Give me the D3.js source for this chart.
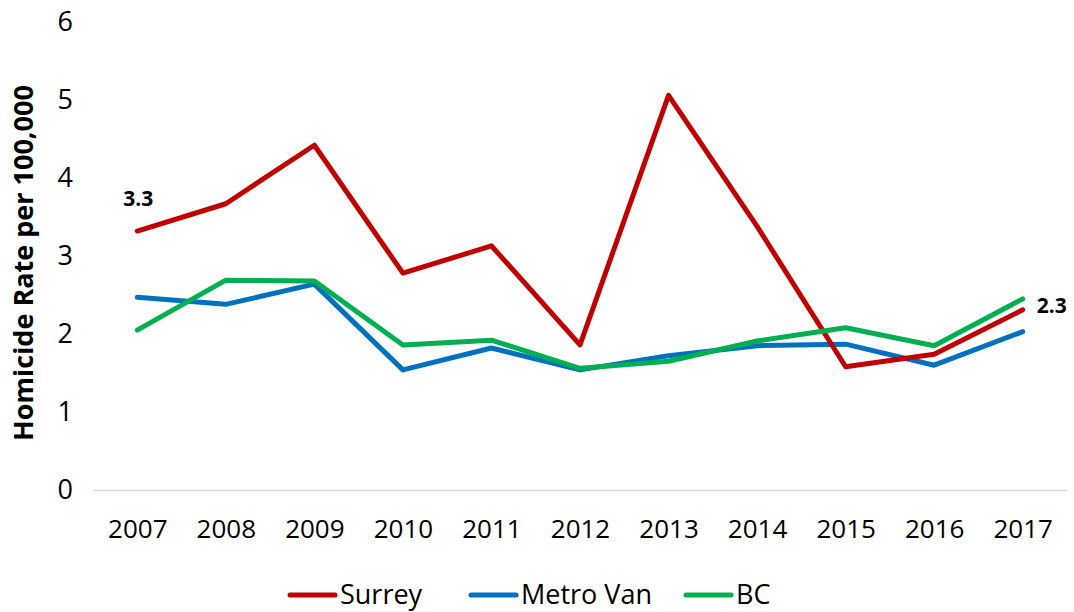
<!DOCTYPE html>
<html>
<head>
<meta charset="utf-8">
<script src="https://cdn.jsdelivr.net/npm/d3@7"></script>
<style>
  body { margin: 0; background: #fff; }
  text { font-family: "Liberation Sans Narrow", "Open Sans", "DejaVu Sans Condensed", sans-serif; }
</style>
</head>
<body>
<script>
// chart data
var years = ["2007", "2008", "2009", "2010", "2011", "2012", "2013", "2014", "2015", "2016", "2017"];
var surrey = [3.32, 3.67, 4.42, 2.78, 3.13, 1.86, 5.06, 3.38, 1.58, 1.74, 2.31];
var metroVan = [2.47, 2.38, 2.64, 1.54, 1.82, 1.54, 1.72, 1.85, 1.87, 1.60, 2.03];
var bc = [2.05, 2.69, 2.68, 1.86, 1.92, 1.56, 1.65, 1.91, 2.08, 1.85, 2.45];
var yTicks = [0, 1, 2, 3, 4, 5, 6];
var seriesNames = ["Surrey", "Metro Van", "BC"];

var draw = function() {
  var width = 1074, height = 612;
  var margin = {top: 22, right: 7, bottom: 122, left: 93};
  var colors = ["#C00000", "#0070C0", "#00B050"];
  var allSeries = [surrey, metroVan, bc];

  var svg = d3.select("body").append("svg")
      .attr("width", width)
      .attr("height", height);

  var x = d3.scalePoint()
      .domain(years)
      .range([margin.left, width - margin.right])
      .padding(0.5);

  var y = d3.scaleLinear()
      .domain([0, 6])
      .range([height - margin.bottom, margin.top]);

  // x axis
  var xAxis = svg.append("g")
      .attr("transform", "translate(0," + y(0) + ")")
      .call(d3.axisBottom(x).tickSize(0).tickPadding(30));
  xAxis.select(".domain").attr("stroke", "#d9d9d9").attr("stroke-width", 1.5);
  xAxis.selectAll("text").attr("font-size", 26).attr("fill", "#000");

  // y axis (labels only)
  var yAxis = svg.append("g")
      .attr("transform", "translate(" + 73 + ",0)")
      .call(d3.axisLeft(y).tickValues(yTicks).tickFormat(d3.format("d")).tickSize(0).tickPadding(0));
  yAxis.select(".domain").remove();
  yAxis.selectAll("text").attr("font-size", 27).attr("fill", "#000");

  svg.append("text")
      .attr("transform", "translate(33," + (y(3) + 7) + ") rotate(-90)")
      .attr("text-anchor", "middle")
      .attr("font-size", 27)
      .attr("font-weight", "bold")
      .attr("fill", "#000")
      .text("Homicide Rate per 100,000");

  var line = d3.line()
      .x(function(d, i) { return x(years[i]); })
      .y(function(d) { return y(d); });

  // draw in order: metro van, then surrey, then bc on top
  [1, 0, 2].forEach(function(k) {
    svg.append("path")
        .datum(allSeries[k])
        .attr("fill", "none")
        .attr("stroke", colors[k])
        .attr("stroke-width", 5)
        .attr("stroke-linejoin", "round")
        .attr("stroke-linecap", "round")
        .attr("d", line);
  });

  // data labels
  svg.append("text")
      .attr("x", x(years[0]) + 1)
      .attr("y", y(surrey[0]) - 25)
      .attr("text-anchor", "middle")
      .attr("font-size", 21)
      .attr("font-weight", "bold")
      .text(surrey[0].toFixed(1));

  var last = years.length - 1;
  svg.append("text")
      .attr("x", x(years[last]) + 14)
      .attr("y", y(surrey[last]) + 3)
      .attr("text-anchor", "start")
      .attr("font-size", 21)
      .attr("font-weight", "bold")
      .text(surrey[last].toFixed(1));

  // legend
  var legendX = [290, 471, 686];
  var legend = svg.append("g").attr("transform", "translate(0,595)");
  seriesNames.forEach(function(name, i) {
    legend.append("line")
        .attr("x1", legendX[i]).attr("x2", legendX[i] + 45)
        .attr("y1", 0).attr("y2", 0)
        .attr("stroke", colors[i])
        .attr("stroke-width", 5)
        .attr("stroke-linecap", "round");
    legend.append("text")
        .attr("x", legendX[i] + 50)
        .attr("y", 0)
        .attr("dy", "0.35em")
        .attr("font-size", 27)
        .attr("fill", "#000")
        .text(name);
  });
};

window.onload = function() {
  draw();
};
</script>
</body>
</html>
